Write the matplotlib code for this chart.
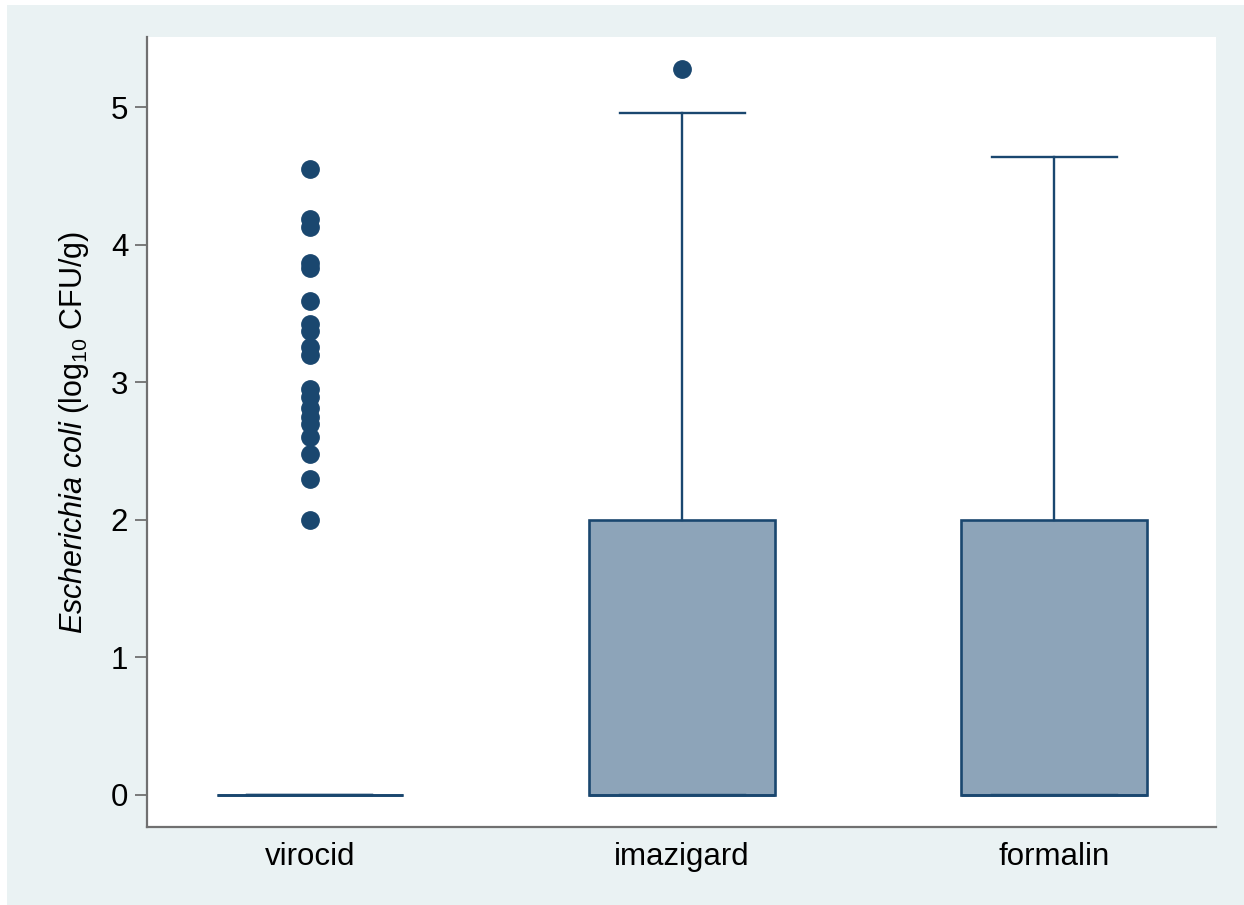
import matplotlib
matplotlib.use("Agg")
import matplotlib.pyplot as plt
from matplotlib.patches import Rectangle

plt.rcParams['font.family'] = ['Liberation Sans', 'DejaVu Sans']
plt.rcParams['mathtext.fontset'] = 'custom'
plt.rcParams['mathtext.rm'] = 'Liberation Sans'
plt.rcParams['mathtext.it'] = 'Liberation Sans:italic'

categories = ["virocid", "imazigard", "formalin"]
q1 = [0.0, 0.0, 0.0]
medians = [0.0, 0.0, 0.0]
q3 = [0.0, 2.0, 2.0]
whisker_low = [0.0, 0.0, 0.0]
whisker_high = [0.0, 4.96, 4.64]
outliers = [
    [4.55, 4.19, 4.13, 3.87, 3.83, 3.59, 3.42, 3.37, 3.26, 3.20,
     2.95, 2.89, 2.81, 2.75, 2.70, 2.60, 2.48, 2.30, 2.00],
    [5.28],
    [],
]
yticks = [0, 1, 2, 3, 4, 5]

navy = "#1A476F"
fill = "#8DA4B9"
bg = "#EAF2F3"

fig = plt.figure(figsize=(12.44, 9.05), dpi=100)
fig.patch.set_facecolor("white")
fig.patches.append(Rectangle((7 / 1244, 0), 1 - 7 / 1244, 1 - 5 / 905,
                             transform=fig.transFigure, facecolor=bg,
                             edgecolor="none", zorder=-10))

ax = fig.add_axes([147 / 1244, 1 - 827 / 905, (1216 - 147) / 1244, (827 - 37) / 905])
ax.set_facecolor("white")

stats = []
for i, c in enumerate(categories):
    stats.append(dict(label=c, med=medians[i], q1=q1[i], q3=q3[i],
                      whislo=whisker_low[i], whishi=whisker_high[i],
                      fliers=outliers[i]))

positions = list(range(1, len(categories) + 1))
ax.bxp(stats, positions=positions, widths=0.5, capwidths=0.336,
       patch_artist=True, showfliers=True,
       boxprops=dict(facecolor=fill, edgecolor=navy, linewidth=1.9),
       medianprops=dict(color=navy, linewidth=1.9),
       whiskerprops=dict(color=navy, linewidth=1.7),
       capprops=dict(color=navy, linewidth=1.7),
       flierprops=dict(marker='o', markerfacecolor=navy, markeredgecolor=navy,
                       markersize=12.5, linestyle='none'))

ax.set_xlim(0.562, 3.435)
ax.set_ylim(-0.233, 5.51)
ax.set_yticks(yticks)
ax.set_yticklabels([str(t) for t in yticks])
ax.set_xticks(positions)
ax.set_xticklabels(categories)

for s in ["top", "right"]:
    ax.spines[s].set_visible(False)
for s in ["left", "bottom"]:
    ax.spines[s].set_color("#707070")
    ax.spines[s].set_linewidth(1.6)

ax.tick_params(axis='y', length=8.5, width=1.3, color="#707070",
               labelsize=22.5, pad=5, labelcolor="black")
ax.tick_params(axis='x', length=0, labelsize=22.5, pad=11, labelcolor="black")

ax.set_ylabel(r"$\it{Escherichia\ coli}$ (log$_{10}$ CFU/g)", fontsize=22, labelpad=14)

fig.savefig("out.png", dpi=100, facecolor=fig.get_facecolor())
